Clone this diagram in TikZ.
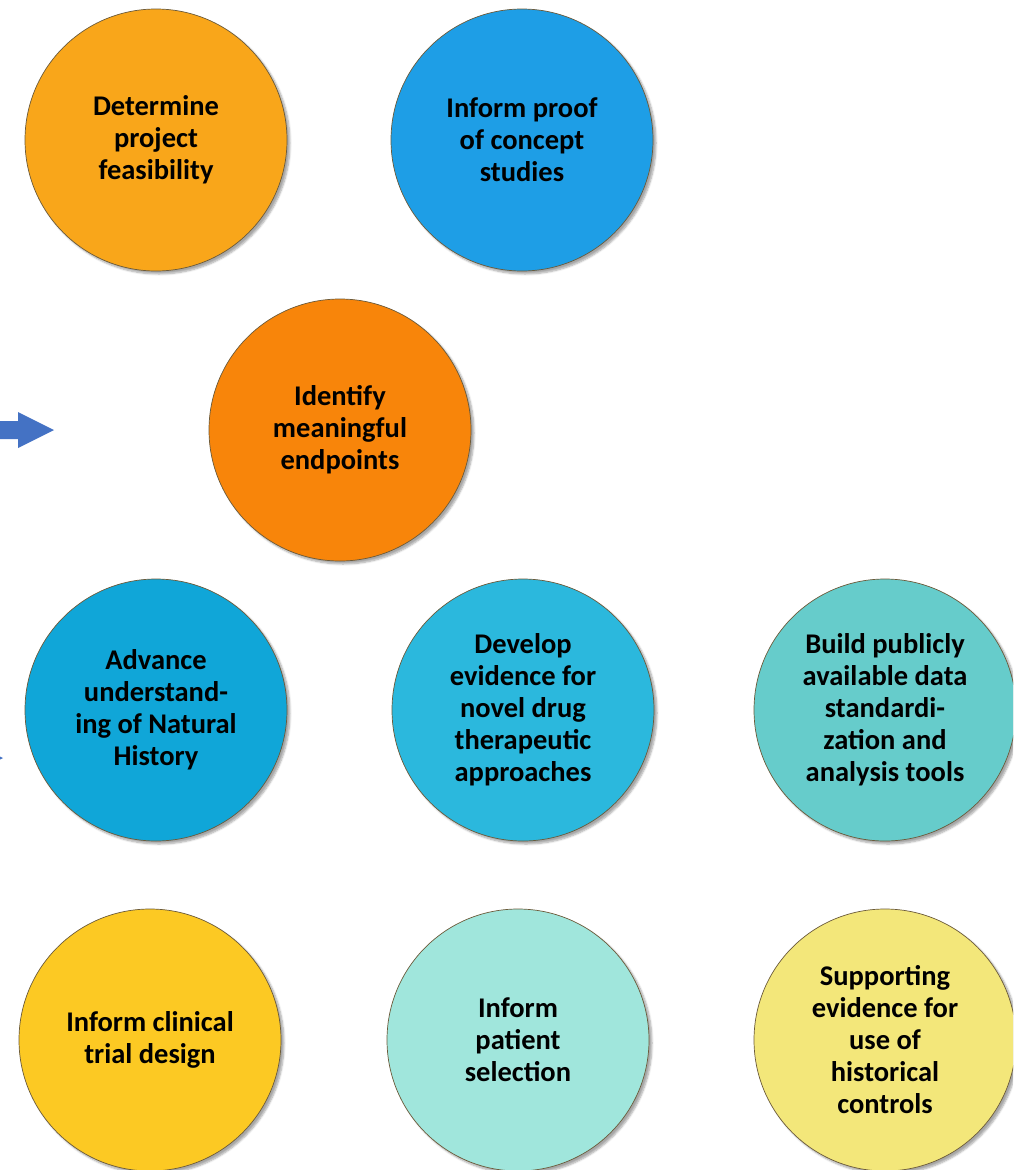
\documentclass[tikz,border=0pt]{standalone}
\usepackage{fontspec}
\setmainfont{Carlito}
\usetikzlibrary{shadows.blur}
\definecolor{cA}{HTML}{F9A61A}
\definecolor{cB}{HTML}{1E9EE6}
\definecolor{cC}{HTML}{F8850A}
\definecolor{cD}{HTML}{10A6D8}
\definecolor{cE}{HTML}{2BB8DD}
\definecolor{cF}{HTML}{66CCCB}
\definecolor{cG}{HTML}{FCC923}
\definecolor{cH}{HTML}{A0E6DC}
\definecolor{cI}{HTML}{F3E77A}
\definecolor{arrowblue}{HTML}{4472C4}
\definecolor{rim}{HTML}{6B5A3A}
\tikzset{
  bubble/.style={circle, minimum size=262pt, inner sep=0pt, draw=rim, line width=0.7pt,
    align=center, font=\fontsize{28.5}{32}\selectfont\bfseries,
    blur shadow={shadow xshift=3pt, shadow yshift=-3pt, shadow blur steps=6, shadow opacity=35}},
  bigarrow/.style={fill=arrowblue, draw=none}
}
\begin{document}
\begin{tikzpicture}[x=1pt,y=-1pt]
\useasboundingbox (0,0) rectangle (1013,1170);
\clip (0,0) rectangle (1013,1170);
\node[bubble, fill=cA] (feas) at (156,140) {Determine\\project\\feasibility};
\node[bubble, fill=cB] (poc) at (522,140) {Inform proof\\of concept\\studies};
\node[bubble, fill=cC] (endp) at (340,430) {Identify\\meaningful\\endpoints};
\node[bubble, fill=cD] (nat) at (156,710) {Advance\\understand-\\ing of Natural\\History};
\node[bubble, fill=cE] (drug) at (523,710) {Develop\\evidence for\\novel drug\\therapeutic\\approaches};
\node[bubble, fill=cF] (tools) at (885,710) {Build publicly\\available data\\standardi-\\zation and\\analysis tools};
\node[bubble, fill=cG] (trial) at (150,1040) {Inform clinical\\trial design};
\node[bubble, fill=cH] (pat) at (518,1040) {Inform\\patient\\selection};
\node[bubble, fill=cI] (hist) at (885,1040) {Supporting\\evidence for\\use of\\historical\\controls};
\coordinate (a1) at (54,430);
\fill[bigarrow] (a1) -- ++(-36,-18) -- ++(0,9) -- ++(-30,0) -- ++(0,18) -- ++(30,0) -- ++(0,9) -- cycle;
\coordinate (a2) at (3,758);
\fill[bigarrow] (a2) -- ++(-36,-18) -- ++(0,9) -- ++(-30,0) -- ++(0,18) -- ++(30,0) -- ++(0,9) -- cycle;
\end{tikzpicture}
\end{document}
